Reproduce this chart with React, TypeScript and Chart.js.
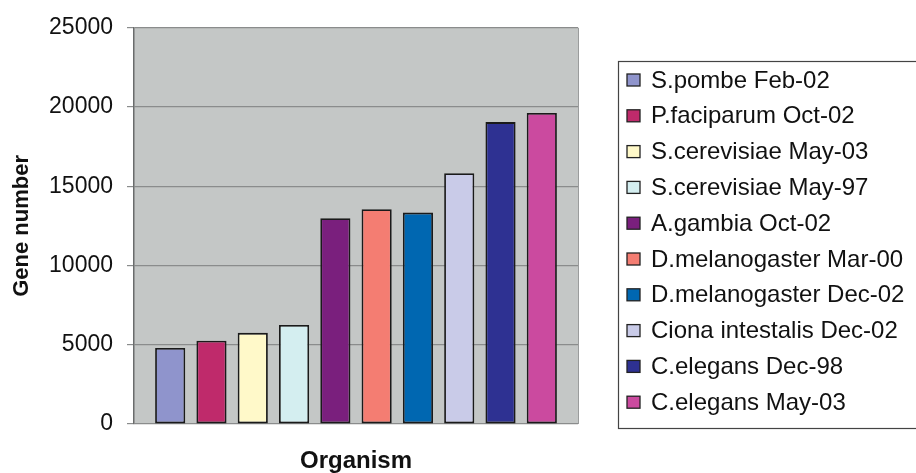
import React, { useEffect, useRef } from "react";
import { Chart, registerables } from "chart.js";

Chart.register(...registerables);

const organisms = [
  "S.pombe Feb-02",
  "P.faciparum Oct-02",
  "S.cerevisiae May-03",
  "S.cerevisiae May-97",
  "A.gambia Oct-02",
  "D.melanogaster Mar-00",
  "D.melanogaster Dec-02",
  "Ciona intestalis Dec-02",
  "C.elegans Dec-98",
  "C.elegans May-03",
];
const geneNumbers = [4800, 5250, 5750, 6250, 12980, 13550, 13340, 15830, 19050, 19620];
const barColors = [
  "#8F94CC",
  "#BF2A6B",
  "#FFF9C9",
  "#D4EEF0",
  "#7A1F7D",
  "#F47D72",
  "#0067B1",
  "#C9CBE8",
  "#2E3192",
  "#CB4A9F",
];
const categories = [""];
const yTicks = [0, 5000, 10000, 15000, 20000, 25000];

const FONT = "'Liberation Sans', Arial, sans-serif";

const plotBg = {
  id: "plotBg",
  beforeDraw(chart: any) {
    const { ctx, chartArea } = chart;
    ctx.save();
    ctx.fillStyle = "#C4C7C6";
    ctx.fillRect(chartArea.left, chartArea.top, chartArea.right - chartArea.left, chartArea.bottom - chartArea.top);
    ctx.strokeStyle = "#9a9c9c";
    ctx.lineWidth = 1;
    ctx.beginPath();
    ctx.moveTo(chartArea.right + 0.5, chartArea.top);
    ctx.lineTo(chartArea.right + 0.5, chartArea.bottom);
    ctx.stroke();
    ctx.restore();
  },
};

const boxLegend = {
  id: "boxLegend",
  afterDraw(chart: any) {
    const { ctx } = chart;
    const x0 = 618;
    const y0 = 61;
    const h = 367;
    const firstY = 80;
    const step = 35.8;
    ctx.save();
    ctx.strokeStyle = "#444";
    ctx.lineWidth = 1.2;
    ctx.strokeRect(x0 + 0.5, y0 + 0.5, 400, h);
    ctx.font = `24px ${FONT}`;
    ctx.textBaseline = "middle";
    ctx.textAlign = "left";
    chart.data.datasets.forEach((ds: any, i: number) => {
      const cy = firstY + i * step;
      ctx.fillStyle = ds.backgroundColor;
      ctx.fillRect(627, cy - 6, 13, 12);
      ctx.strokeStyle = "#222";
      ctx.lineWidth = 1.3;
      ctx.strokeRect(627, cy - 6, 13, 12);
      ctx.fillStyle = "#111";
      ctx.fillText(ds.label, 651, cy + 1);
    });
    ctx.restore();
  },
};

export default function App() {
  const ref = useRef<HTMLCanvasElement | null>(null);

  useEffect(() => {
    if (!ref.current) return;
    const chart = new Chart(ref.current, {
      type: "bar",
      data: {
        labels: categories,
        datasets: organisms.map((name, i) => ({
          label: name,
          data: [geneNumbers[i]],
          backgroundColor: barColors[i],
          borderColor: "#1a1a1a",
          borderWidth: 1.8,
          borderSkipped: false,
          categoryPercentage: 0.93,
          barPercentage: 0.73,
        })),
      },
      options: {
        animation: false,
        responsive: true,
        maintainAspectRatio: false,
        layout: { padding: { left: 0, top: 24, right: 338, bottom: 0 } },
        plugins: {
          legend: { display: false },
          tooltip: { enabled: false },
        },
        scales: {
          x: {
            ticks: { display: false },
            grid: { display: false },
            border: { display: false },
            title: {
              display: true,
              text: "Organism",
              color: "#111",
              font: { family: FONT, size: 24, weight: "bold", lineHeight: 1 },
              padding: { top: 0, bottom: 0 },
            },
            afterFit(scale: any) {
              scale.height = 49;
            },
          },
          y: {
            min: 0,
            max: 25000,
            afterBuildTicks(scale: any) {
              scale.ticks = yTicks.map((v) => ({ value: v }));
            },
            ticks: {
              color: "#111",
              font: { family: FONT, size: 23 },
              padding: 14,
              callback: (v: any) => String(v),
            },
            grid: {
              color: "#8a8c8c",
              lineWidth: 1.2,
              tickLength: 7,
              tickColor: "#8a8c8c",
            },
            border: { display: true, color: "#6a6c6c", width: 1.5 },
            title: {
              display: true,
              text: "Gene number",
              color: "#111",
              font: { family: FONT, size: 22, weight: "bold", lineHeight: 1.2 },
              padding: { top: 9, bottom: 0 },
            },
            afterFit(scale: any) {
              scale.width = 134;
            },
          },
        },
      },
      plugins: [plotBg, boxLegend],
    });
    return () => chart.destroy();
  }, []);

  return (
    <div style={{ position: "fixed", left: 0, top: 0, width: 916, height: 473, background: "#fff" }}>
      <canvas ref={ref} />
    </div>
  );
}
